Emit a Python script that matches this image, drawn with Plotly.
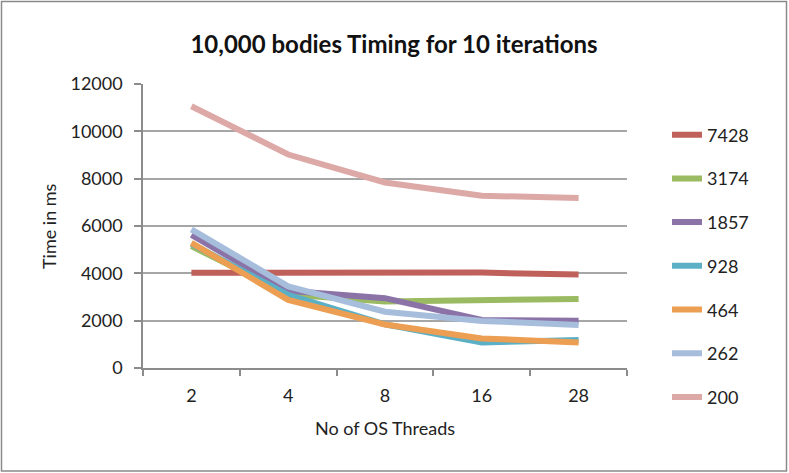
import plotly.graph_objects as go

threads = ["2", "4", "8", "16", "28"]
series_names = ["7428", "3174", "1857", "928", "464", "262", "200"]
s7428 = [4020, 4030, 4030, 4030, 3950]
s3174 = [5150, 3100, 2810, 2840, 2920]
s1857 = [5620, 3260, 2950, 2030, 2000]
s928 = [5250, 3090, 1840, 1080, 1180]
s464 = [5290, 2880, 1840, 1250, 1080]
s262 = [5860, 3450, 2380, 1990, 1820]
s200 = [11060, 9020, 7840, 7280, 7180]
y_ticks = [0, 2000, 4000, 6000, 8000, 10000, 12000]

all_series = [s7428, s3174, s1857, s928, s464, s262, s200]
colors = ["#C0605A", "#9BBB62", "#8B73A8", "#5BB0C6", "#EC9F52", "#A7BDDC", "#DDA9A7"]

FONT = "Lato, 'Open Sans', sans-serif"

fig = go.Figure()
for name, vals, col in zip(series_names, all_series, colors):
    fig.add_trace(go.Scatter(
        x=threads, y=vals, name=name, mode="lines",
        line=dict(color=col, width=6),
        legendgroup=name,
    ))

W, H = 789, 473
L, R, T, B = 143, 627, 84, 368

def px(xp):
    return (xp - L) / (R - L)

def py(yp):
    return (B - yp) / (B - T)

fig.update_layout(
    width=W, height=H,
    margin=dict(l=L, r=W - R, t=T, b=H - B),
    paper_bgcolor="white", plot_bgcolor="white",
    font=dict(family=FONT, size=18, color="#222"),
    title=dict(text="<b>10,000 bodies Timing for 10 iterations</b>",
               x=394 / W, xanchor="center", y=1 - 45 / H, yanchor="middle",
               font=dict(family=FONT, size=24, color="#111")),
    showlegend=True,
    legend=dict(x=px(667), y=py(116.5), xanchor="left", yanchor="top",
                font=dict(family=FONT, size=18, color="#222"),
                traceorder="grouped", tracegroupgap=17.3,
                bgcolor="rgba(0,0,0,0)", itemwidth=30, maxheight=400),
    xaxis=dict(type="category", range=[-0.5, 4.5],
               showline=True, linecolor="#8c8c8c", linewidth=1.5,
               ticks="outside", tickson="boundaries", ticklen=6,
               tickcolor="#8c8c8c", tickwidth=1.5,
               ticklabelstandoff=11,
               showgrid=False, zeroline=False,
               title=dict(text="No of OS Threads", standoff=17,
                          font=dict(family=FONT, size=18)),
               tickfont=dict(family=FONT, size=18)),
    yaxis=dict(range=[0, 12000], tickvals=y_ticks, tickformat="d",
               showline=True, linecolor="#8c8c8c", linewidth=1.5,
               ticks="outside", ticklen=7, tickcolor="#8c8c8c", tickwidth=1.5,
               ticklabelstandoff=8,
               showgrid=True, gridcolor="#a6a6a6", gridwidth=1.5,
               zeroline=False,
               tickfont=dict(family=FONT, size=18)),
    annotations=[dict(text="Time in ms", xref="paper", yref="paper",
                      x=px(49), y=py(226), textangle=-90, showarrow=False,
                      xanchor="center", yanchor="middle",
                      font=dict(family=FONT, size=18, color="#222"))],
    shapes=[dict(type="rect", xref="paper", yref="paper",
                 x0=px(1.5), x1=px(786.5), y0=py(471), y1=py(1.5),
                 line=dict(color="#8a8a8a", width=1.5), layer="below")],
)

fig.write_html("out.html", config={"displayModeBar": False},
               post_script="document.body.style.margin='0';")
